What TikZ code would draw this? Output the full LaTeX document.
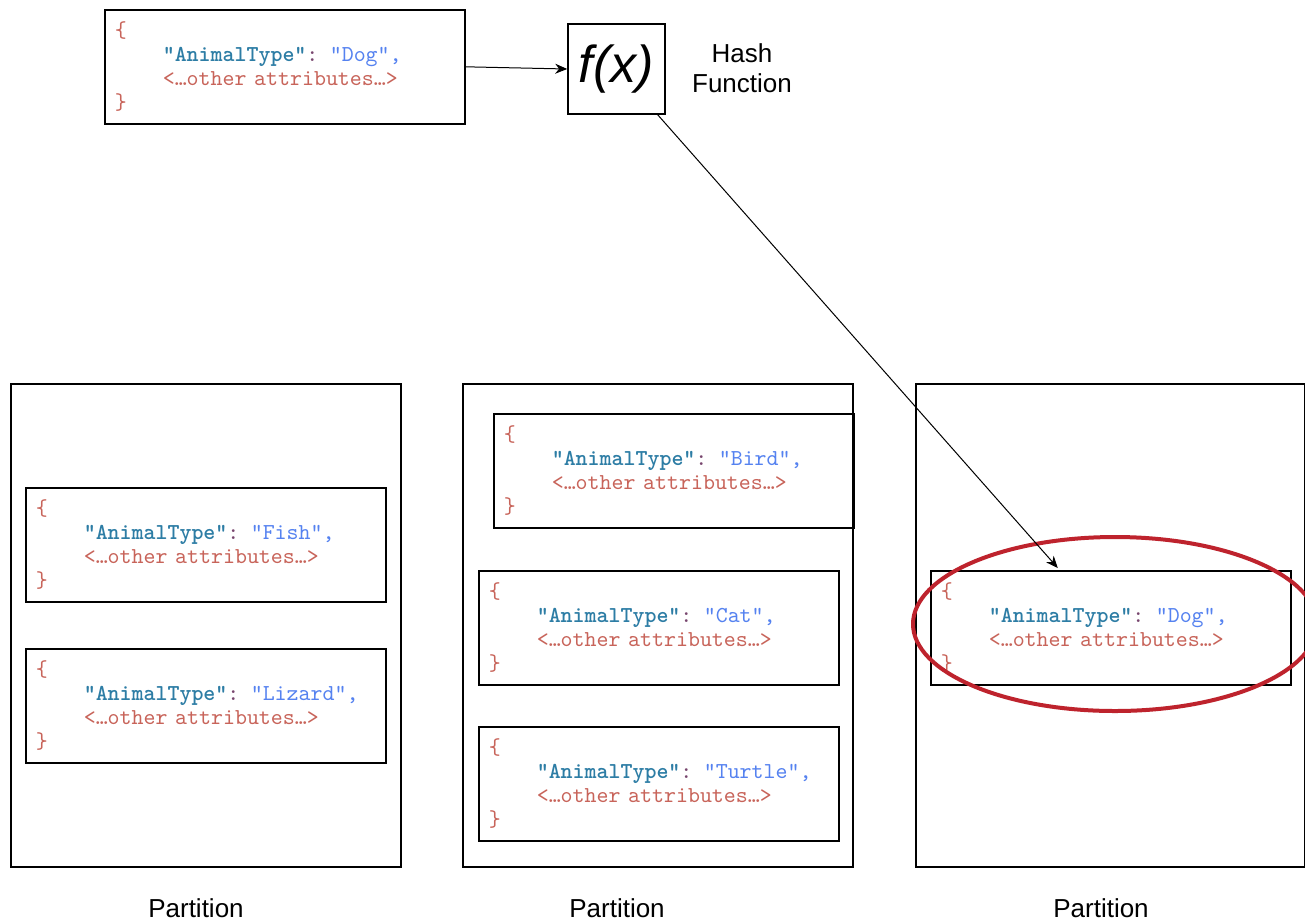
\documentclass[tikz,border=0pt]{standalone}
\usepackage{fontspec}
\setmainfont{Liberation Sans}
\setmonofont{lmmono10-regular.otf}[BoldFont=lmmonolt10-bold.otf]
\usetikzlibrary{arrows.meta,shapes.geometric}
\definecolor{bracered}{RGB}{200,100,90}
\definecolor{keyblue}{RGB}{45,125,165}
\definecolor{valblue}{RGB}{85,130,240}
\definecolor{colonmauve}{RGB}{120,70,110}
\definecolor{ringred}{RGB}{190,35,45}
\newcommand{\animalrecord}[1]{%
\textcolor{bracered}{\{}\\
\hspace*{24pt}\textcolor{keyblue}{\textbf{"AnimalType"}}\textcolor{colonmauve}{:} \textcolor{valblue}{"#1",}\\
\hspace*{24pt}\textcolor{bracered}{<…other attributes…>}\\
\textcolor{bracered}{\}}}
\tikzset{
  record/.style={shape=rectangle,draw,line width=0.8pt,anchor=north west,
    minimum width=180pt,minimum height=57pt,inner xsep=5pt,text width=170pt,
    align=left,font=\ttfamily\fontsize{11.4}{12}\selectfont},
  partbox/.style={shape=rectangle,draw,line width=0.8pt,anchor=north west,
    minimum width=195pt,minimum height=241.5pt},
  plabel/.style={font=\fontsize{13}{15}\selectfont}
}
\begin{document}
\begin{tikzpicture}[x=0.5pt,y=-0.5pt]
\useasboundingbox[fill=white] (0,0) rectangle (1305,922);
% incoming record and the hash
\node (rec) at (104,9) [record]{\animalrecord{Dog}};
\node (fx) at (616.5,69) [shape=rectangle,draw,line width=0.8pt,minimum width=48.5pt,minimum height=45pt,inner sep=0pt]{\fontsize{26}{26}\selectfont\itshape f(x)};
\node (hash) at (742,68) [align=center,font=\fontsize{13}{15}\selectfont]{Hash\\Function};
% partitions
\node (part1) at (10,383) [partbox]{};
\node (part2) at (462,383) [partbox]{};
\node (part3) at (915,383) [partbox,minimum width=194.5pt]{};
\node (fish) at (25,487) [record]{\animalrecord{Fish}};
\node (lizard) at (25,648) [record]{\animalrecord{Lizard}};
\node (bird) at (493,413) [record,minimum width=179.5pt]{\animalrecord{Bird}};
\node (cat) at (478,570) [record]{\animalrecord{Cat}};
\node (turtle) at (478,726) [record]{\animalrecord{Turtle}};
\node (dog) at (930,570) [record]{\animalrecord{Dog}};
\node (ring) at (1115,624) [shape=ellipse,draw=ringred,line width=2pt,minimum width=202pt,minimum height=87pt]{};
\node (lab1) at (196,908) [plabel]{Partition};
\node (lab2) at (617,908) [plabel]{Partition};
\node (lab3) at (1101,908) [plabel]{Partition};
\draw [-{Stealth[length=6pt,width=5pt]},line width=0.5pt] (rec.east) to (fx.west);
\draw [-{Stealth[length=6pt,width=5pt]},line width=0.5pt] (fx.-48) to ([xshift=-26.5pt,yshift=1pt]dog.north);
\end{tikzpicture}
\end{document}
